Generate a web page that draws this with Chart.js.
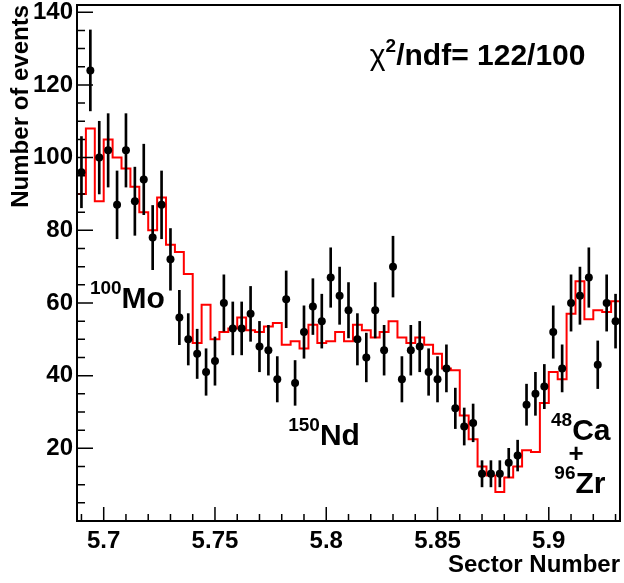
<!DOCTYPE html>
<html>
<head>
<meta charset="utf-8">
<script src="https://cdn.jsdelivr.net/npm/chart.js@4.4.1/dist/chart.umd.min.js"></script>
<style>
  html, body { margin: 0; padding: 0; background: #fff; }
  #wrap { width: 624px; height: 583px; }
</style>
</head>
<body>
<div id="wrap"><canvas id="chart" width="624" height="583"></canvas></div>
<script>
// events per sector bin (data points)
const counts = [
  96, 124, 100, 102, 87, 102, 88, 94, 78, 87,
  72, 56, 50, 46, 41, 44, 60, 53, 53, 57,
  48, 47, 39, 61, 38, 52, 59, 55, 67, 62,
  58, 50, 45, 58, 47, 70, 39, 47, 48, 41,
  39, 42, 31, 26, 27, 13, 13, 13, 16, 18,
  32, 35, 37, 52, 42, 60, 62, 67, 43, 60,
  55
];

// fitted expectation per bin (red histogram)
const model = [
  90, 108, 88, 105, 100, 97, 92, 85, 80, 89,
  76, 74, 68, 49, 59.5, 50, 52, 53, 56, 52.5,
  52, 53.5, 54.5, 48.5, 49.5, 47.5, 54, 49, 49.5, 52,
  49.5, 54, 52.5, 50.5, 52, 55, 50.5, 49, 50.5, 48.5,
  46, 42, 41.5, 29, 22.5, 15, 12.5, 8, 12, 15,
  19.5, 19, 32.5, 41, 39, 57, 66, 55.5, 58, 57.5,
  60.5
];

const binLow = 5.688;
const binWidth = 0.004;
const xTicks = [5.7, 5.75, 5.8, 5.85, 5.9];
const yTicks = [20, 40, 60, 80, 100, 120, 140];

const FONT = "'Liberation Sans', Arial, Helvetica, sans-serif";

const centers = counts.map((_, i) => binLow + binWidth * (i + 0.5));
const points = counts.map((n, i) => ({ x: centers[i], y: n }));
// poisson errors on the counts
const errorBars = counts.map((n, i) => ({ x: centers[i], y: [n - Math.sqrt(n), n + Math.sqrt(n)] }));
// step outline: one vertex per left bin edge plus the closing edge
const histLine = model.map((v, i) => ({ x: binLow + binWidth * i, y: v }));
histLine.push({ x: binLow + binWidth * model.length, y: model[model.length - 1] });

const isotopeLabels = [
  { sup: '100', main: 'Mo', x: 5.6938, y: 58.5 },
  { sup: '150', main: 'Nd', x: 5.7829, y: 20.8 },
  { sup: '48', main: 'Ca', x: 5.9010, y: 22.2 },
  { sup: '96', main: 'Zr', x: 5.9025, y: 7.6 }
];

// ticks drawn inside the frame, plus the box around the plot
const rootFrame = {
  id: 'rootFrame',
  afterDatasetsDraw(chart) {
    const { ctx, chartArea: a, scales: { x, y } } = chart;
    ctx.save();
    ctx.strokeStyle = '#000';
    ctx.lineWidth = 1.5;
    ctx.beginPath();
    for (let v = 5; v <= 140; v += 5) {
      const py = y.getPixelForValue(v);
      const len = v % 20 === 0 ? 16 : 8;
      ctx.moveTo(a.left, py);
      ctx.lineTo(a.left + len, py);
    }
    for (let k = 569; k <= 593; k++) {
      const px = x.getPixelForValue(k / 100);
      const len = k % 5 === 0 ? 14 : 7;
      ctx.moveTo(px, a.bottom);
      ctx.lineTo(px, a.bottom - len);
    }
    ctx.stroke();
    ctx.lineWidth = 2;
    ctx.strokeRect(a.left, a.top, a.right - a.left, a.bottom - a.top);
    ctx.restore();
  }
};

const textLabels = {
  id: 'textLabels',
  afterDraw(chart) {
    const { ctx, scales: { x, y } } = chart;
    ctx.save();
    ctx.fillStyle = '#000';
    ctx.textBaseline = 'alphabetic';
    ctx.textAlign = 'left';

    isotopeLabels.forEach(l => {
      const px = x.getPixelForValue(l.x);
      const py = y.getPixelForValue(l.y);
      ctx.font = 'bold 19px ' + FONT;
      ctx.fillText(l.sup, px, py - 14);
      const w = ctx.measureText(l.sup).width;
      ctx.font = 'bold 30px ' + FONT;
      ctx.fillText(l.main, px + w, py);
    });

    ctx.font = 'bold 26px ' + FONT;
    ctx.textAlign = 'center';
    ctx.textBaseline = 'middle';
    ctx.fillText('+', x.getPixelForValue(5.9123), y.getPixelForValue(18.1));

    // chi-square box text
    ctx.textAlign = 'left';
    ctx.textBaseline = 'alphabetic';
    let px = x.getPixelForValue(5.8196);
    const py = y.getPixelForValue(125.4);
    ctx.font = '30px ' + FONT;
    ctx.fillText('\u03c7', px, py);
    px += ctx.measureText('\u03c7').width;
    ctx.font = 'bold 19px ' + FONT;
    ctx.fillText('2', px, py - 13);
    px += ctx.measureText('2').width;
    ctx.font = 'bold 30px ' + FONT;
    ctx.fillText('/ndf= 122/100', px, py);
    ctx.restore();
  }
};

new Chart(document.getElementById('chart').getContext('2d'), {
  type: 'scatter',
  data: {
    datasets: [
      {
        type: 'scatter',
        data: points,
        pointRadius: 4,
        pointHoverRadius: 4,
        pointBackgroundColor: '#000',
        pointBorderWidth: 0,
        order: 0
      },
      {
        type: 'bar',
        data: errorBars,
        backgroundColor: '#000',
        borderWidth: 0,
        barThickness: 2,
        order: 1
      },
      {
        type: 'line',
        data: histLine,
        stepped: 'before',
        borderColor: '#ff0000',
        borderWidth: 2,
        pointRadius: 0,
        fill: false,
        order: 2
      }
    ]
  },
  options: {
    responsive: false,
    animation: false,
    devicePixelRatio: 1,
    layout: { padding: { left: 0, right: 2, top: 5, bottom: 0 } },
    plugins: { legend: { display: false }, tooltip: { enabled: false } },
    scales: {
      x: {
        type: 'linear',
        min: 5.688,
        max: 5.932,
        offset: false,
        grid: { display: false, drawTicks: false },
        border: { display: false },
        afterBuildTicks: s => { s.ticks = xTicks.map(v => ({ value: v })); },
        afterFit: s => { s.height = 62; s.paddingLeft = 0; s.paddingRight = 0; },
        ticks: {
          color: '#000',
          font: { family: FONT, size: 24, weight: 'bold' },
          padding: 6,
          maxRotation: 0,
          autoSkip: false,
          callback: v => String(v)
        },
        title: {
          display: true,
          text: 'Sector Number',
          align: 'end',
          color: '#000',
          font: { family: FONT, size: 24, weight: 'bold' },
          padding: { top: 0, bottom: 3 }
        }
      },
      y: {
        type: 'linear',
        min: 0,
        max: 142,
        grid: { display: false, drawTicks: false },
        border: { display: false },
        afterBuildTicks: s => { s.ticks = yTicks.map(v => ({ value: v })); },
        afterFit: s => { s.width = 77; s.paddingTop = 0; s.paddingBottom = 0; },
        ticks: {
          color: '#000',
          font: { family: FONT, size: 24, weight: 'bold' },
          padding: 4,
          autoSkip: false,
          callback: v => String(v)
        },
        title: {
          display: true,
          text: 'Number of events',
          align: 'end',
          color: '#000',
          font: { family: FONT, size: 24, weight: 'bold' },
          padding: { top: 7, bottom: 0 }
        }
      }
    }
  },
  plugins: [rootFrame, textLabels]
});
</script>
</body>
</html>
